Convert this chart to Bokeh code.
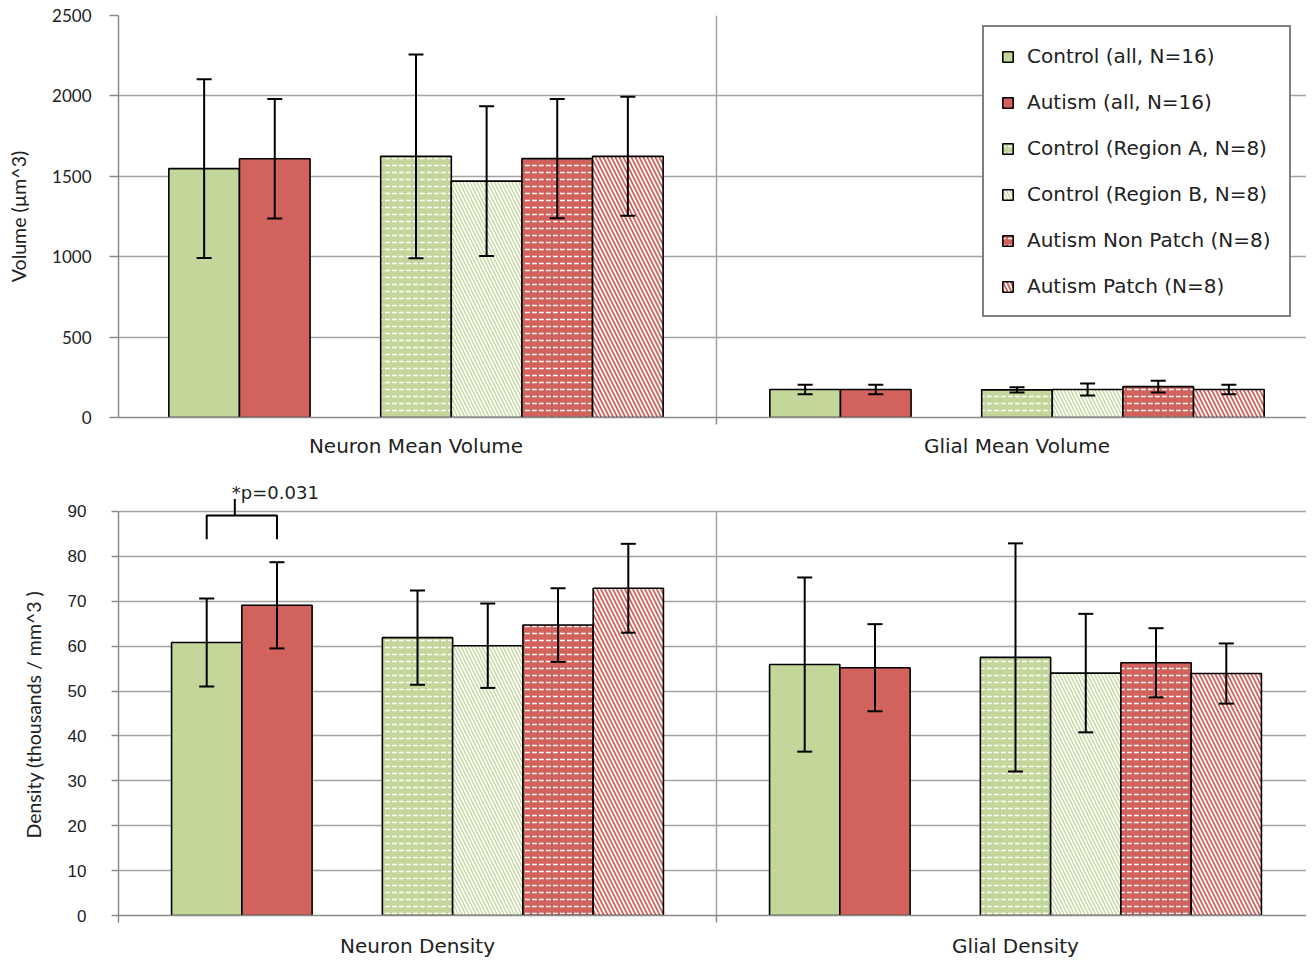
from bokeh.plotting import figure
from bokeh.models import (ColumnDataSource, Whisker, TeeHead, FixedTicker, Legend,
                          LegendItem, Range1d, Title)
from bokeh.layouts import column
from bokeh.embed import file_html
from bokeh.resources import INLINE
from bokeh.core.properties import value

# ---------------- data ----------------
volume_categories = ["Neuron Mean Volume", "Glial Mean Volume"]
density_categories = ["Neuron Density", "Glial Density"]
series_names = ["Control (all, N=16)", "Autism (all, N=16)", "Control (Region A, N=8)",
                "Control (Region B, N=8)", "Autism Non Patch (N=8)", "Autism Patch (N=8)"]

# volume (um^3): mean and error per category
control_all_vol = [1548, 174]
autism_all_vol = [1609, 174]
control_a_vol = [1624, 172]
control_b_vol = [1470, 174]
autism_nonpatch_vol = [1610, 192]
autism_patch_vol = [1624, 174]
control_all_vol_err = [556, 30]
autism_all_vol_err = [371, 30]
control_a_vol_err = [633, 16]
control_b_vol_err = [465, 37]
autism_nonpatch_vol_err = [371, 37]
autism_patch_vol_err = [370, 30]

# density (thousands / mm^3)
control_all_den = [60.8, 55.9]
autism_all_den = [69.1, 55.2]
control_a_den = [61.9, 57.5]
control_b_den = [60.1, 54.0]
autism_nonpatch_den = [64.7, 56.3]
autism_patch_den = [72.9, 53.9]
control_all_den_err = [9.8, 19.4]
autism_all_den_err = [9.6, 9.7]
control_a_den_err = [10.5, 25.4]
control_b_den_err = [9.4, 13.2]
autism_nonpatch_den_err = [8.2, 7.7]
autism_patch_den_err = [9.9, 6.7]

volume_ticks = [0, 500, 1000, 1500, 2000, 2500]
density_ticks = [0, 10, 20, 30, 40, 50, 60, 70, 80, 90]

p_value_text = "*p=0.031"
bracket_low, bracket_high, stem_top = 83.8, 89.1, 92.8

vol_means = [control_all_vol, autism_all_vol, control_a_vol, control_b_vol,
             autism_nonpatch_vol, autism_patch_vol]
vol_errs = [control_all_vol_err, autism_all_vol_err, control_a_vol_err, control_b_vol_err,
            autism_nonpatch_vol_err, autism_patch_vol_err]
den_means = [control_all_den, autism_all_den, control_a_den, control_b_den,
             autism_nonpatch_den, autism_patch_den]
den_errs = [control_all_den_err, autism_all_den_err, control_a_den_err, control_b_den_err,
            autism_nonpatch_den_err, autism_patch_den_err]

# ---------------- styles / layout ----------------
GREEN = "#c4d79b"
RED = "#d2635c"
CAL = "Lato"
WIDE = "DejaVu Sans"
ARIAL = "Liberation Sans"
GRID = "#a3a3a3"
AXIS = "#8a8a8a"
TXT = "#222222"
slots = [0, 1, 3, 4, 5, 6]        # one empty slot between the two groups
n_slots = 7
bar_w = 0.1175
edge = (1 - n_slots * bar_w) / 2
PX_PER_UNIT_DEN = 4.489           # density plot vertical scale (px per unit)
LEFT = 118                        # shared frame left edge (column aligns frames)
WIDTH = 1306

styles = [
    dict(fill_color=GREEN),
    dict(fill_color=RED),
    dict(fill_color=GREEN, hatch_pattern="horizontal_dash", hatch_color="white",
         hatch_scale=7, hatch_weight=1.5),
    dict(fill_color=GREEN, hatch_pattern="left_diagonal_line", hatch_color="white",
         hatch_scale=7, hatch_weight=1.75),
    dict(fill_color=RED, hatch_pattern="horizontal_dash", hatch_color="white",
         hatch_scale=7, hatch_weight=1.5),
    dict(fill_color=RED, hatch_pattern="left_diagonal_line", hatch_color="white",
         hatch_scale=8, hatch_weight=1.75),
]


def xpos(g, s):
    return g + edge + (slots[s] + 0.5) * bar_w


def make_fig(height, border_top, border_bottom, x_start, cat_px, y_end, ticks,
             cats, tick_font, tick_standoff, tick_out, x_standoff):
    x_end = x_start + (WIDTH - LEFT) / cat_px
    p = figure(width=WIDTH, height=height, output_backend="svg", toolbar_location=None,
               x_range=Range1d(x_start, x_end), y_range=Range1d(0, y_end),
               min_border_top=border_top, min_border_bottom=border_bottom,
               min_border_left=LEFT, min_border_right=0)
    p.outline_line_color = None
    p.background_fill_color = "white"
    ya = p.yaxis[0]
    ya.ticker = FixedTicker(ticks=ticks)
    ya.bounds = (ticks[0], ticks[-1])
    ya.axis_line_color = AXIS
    ya.axis_line_width = 1.5
    ya.major_tick_line_color = AXIS
    ya.major_tick_line_width = 1.5
    ya.major_tick_out = tick_out
    ya.major_tick_in = 0
    ya.minor_tick_line_color = None
    ya.major_label_text_font = tick_font
    ya.major_label_text_font_size = "17px"
    ya.major_label_text_color = TXT
    ya.major_label_standoff = tick_standoff
    xa = p.xaxis[0]
    xa.ticker = FixedTicker(ticks=[0.5, 1.5], minor_ticks=[0, 1, 2])
    xa.major_label_overrides = {0.5: cats[0], 1.5: cats[1]}
    xa.major_label_text_font = WIDE
    xa.major_label_text_font_size = "20px"
    xa.major_label_text_color = TXT
    xa.major_tick_line_color = None
    xa.major_tick_out = 0
    xa.major_tick_in = 0
    xa.major_label_standoff = x_standoff
    xa.minor_tick_line_color = AXIS
    xa.minor_tick_line_width = 1.5
    xa.minor_tick_out = 7
    xa.minor_tick_in = 0
    xa.axis_line_color = AXIS
    xa.axis_line_width = 1.5
    p.ygrid.ticker = FixedTicker(ticks=ticks)
    p.ygrid.grid_line_color = GRID
    p.ygrid.grid_line_width = 1.5
    p.xgrid.grid_line_color = None
    # category separator (boundary between the two categories)
    p.segment(x0=[1], y0=[ticks[0]], x1=[1], y1=[ticks[-1]], line_color=GRID,
              line_width=1.5)
    return p


def add_bars(p, means, errs, legend=None):
    items = []
    for s, name in enumerate(series_names):
        xs = [xpos(g, s) for g in range(2)]
        src = ColumnDataSource(dict(
            x=xs, top=means[s],
            upper=[m + e for m, e in zip(means[s], errs[s])],
            lower=[m - e for m, e in zip(means[s], errs[s])]))
        r = p.vbar(x="x", top="top", bottom=0, width=bar_w, source=src,
                   line_color="black", line_width=1.6, **styles[s])
        items.append(LegendItem(label=name, renderers=[r]))
        w = Whisker(base="x", upper="upper", lower="lower", source=src,
                    line_color="black", line_width=2, level="annotation",
                    upper_head=TeeHead(size=15, line_width=2, line_color="black"),
                    lower_head=TeeHead(size=15, line_width=2, line_color="black"))
        p.add_layout(w)
    if legend is not None:
        lg = Legend(items=items, location=legend, margin=0, padding=17,
                    spacing=22, label_height=20, glyph_height=13, glyph_width=13,
                    label_standoff=13, label_width=245, label_text_font=WIDE,
                    label_text_font_size="20px", label_text_color=TXT,
                    border_line_color="black", border_line_width=2,
                    background_fill_color="white", background_fill_alpha=1)
        p.add_layout(lg)


# ---- top: volume (its category origin sits 3px left of the shared frame edge) ----
p1 = make_fig(461, 15, 44, 3 / 601, 601, volume_ticks[-1], volume_ticks,
              volume_categories, CAL, 18, 9, 9)
p1.yaxis[0].axis_label = "Volume (\u00b5m^3)"
p1.yaxis[0].axis_label_text_font = CAL
p1.yaxis[0].axis_label_text_font_size = "19.5px"
p1.yaxis[0].axis_label_text_font_style = "normal"
p1.yaxis[0].axis_label_text_color = TXT
p1.yaxis[0].axis_label_standoff = 19
add_bars(p1, vol_means, vol_errs, legend=(864, 100))

# ---- bottom: density (range extends above 90 to hold the p-value note) ----
den_frame_h = 435
p2 = make_fig(499, 19, 45, 0, 598, den_frame_h / PX_PER_UNIT_DEN,
              density_ticks, density_categories, ARIAL, 25, 7, 11)
ylab = Title(text="Density (thousands / mm^3 )", align="left", offset=77,
             vertical_align="top", standoff=36, text_font=CAL,
             text_font_size="19.5px", text_font_style="normal", text_color=TXT)
p2.add_layout(ylab, "left")
add_bars(p2, den_means, den_errs)

# significance bracket between the two "all" bars of the first group
xl, xr = xpos(0, 0), xpos(0, 1)
xm = xl + 0.4 * (xr - xl)
p2.multi_line(xs=[[xl, xl, xr, xr], [xm, xm]],
              ys=[[bracket_low, bracket_high, bracket_high, bracket_low],
                  [bracket_high, stem_top]],
              line_color="black", line_width=2)
p2.text(x=[xm], y=[stem_top], text=[p_value_text], x_offset=-3, y_offset=4,
        text_baseline="bottom", text_font=value(WIDE), text_font_size="18px",
        text_color=TXT)

layout = column(p1, p2, spacing=0)
open("out.html", "w").write(file_html(layout, INLINE))
